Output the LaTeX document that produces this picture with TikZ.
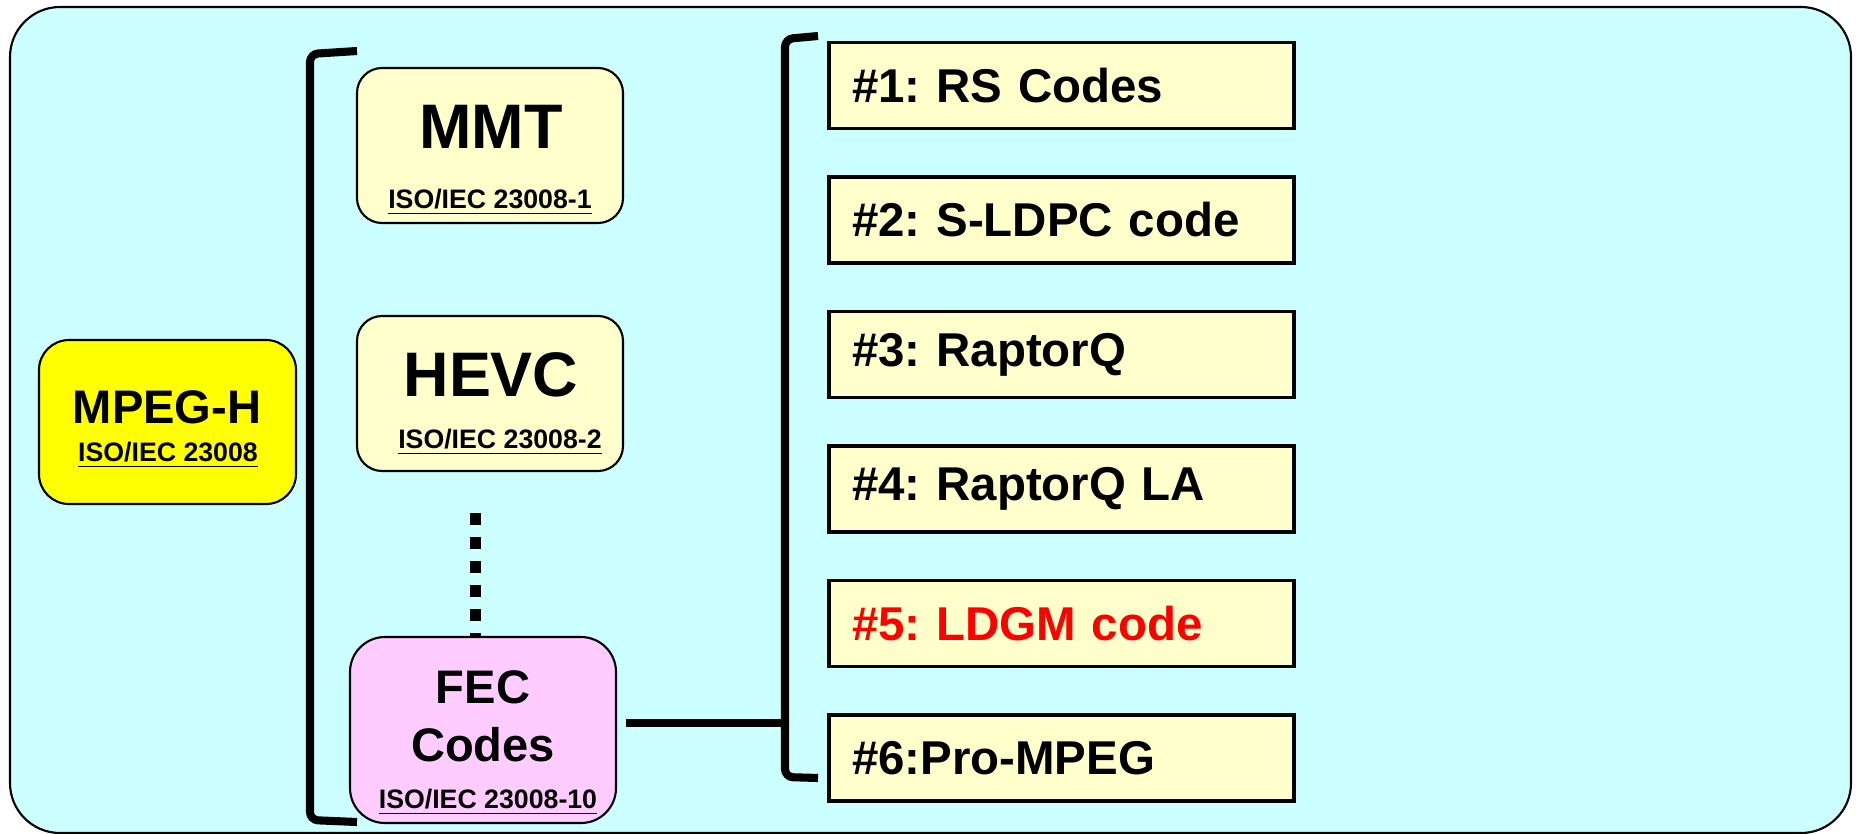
\documentclass[tikz,border=0pt]{standalone}
\usepackage{fontspec}
\setmainfont{Liberation Sans}
\usetikzlibrary{positioning}
\frenchspacing

\definecolor{panelcyan}{HTML}{CCFFFF}
\definecolor{partyellow}{HTML}{FFFFCC}
\definecolor{mpegyellow}{HTML}{FFFF00}
\definecolor{fecpink}{HTML}{FFCCFF}

\newcommand{\isolabel}[1]{\fontsize{7.6}{9}\selectfont\bfseries\underline{#1}}

\begin{document}
\begin{tikzpicture}[
    node distance=0.45cm,
    part/.style={draw, line width=0.6pt, rounded corners=0.25cm,
                 minimum width=2.66cm, minimum height=1.55cm},
    codebox/.style={draw, line width=1pt, fill=partyellow,
                    text width=4.19cm, inner xsep=0.23cm, align=left,
                    minimum height=0.86cm,
                    font=\fontsize{13.5}{16}\selectfont\bfseries},
    bracket/.style={line width=2.3pt, rounded corners=0.08cm},
    big/.style={font=\fontsize{17.9}{20}\selectfont\bfseries, inner sep=0pt},
    mid/.style={font=\fontsize{13.4}{16.5}\selectfont\bfseries, inner sep=0pt},
    iso/.style={inner sep=0pt}
  ]
    \useasboundingbox (0,0) rectangle (18.56,8.33);

    % Panel
    \draw [fill=panelcyan, line width=0.6pt, rounded corners=0.5cm]
          (0.10,0.0) rectangle (18.51,8.26);

    % MPEG-H
    \node [part, fill=mpegyellow, minimum width=2.57cm, minimum height=1.64cm,
           rounded corners=0.3cm] (mpegh) at (1.675,4.11) {};
    \node [mid, anchor=base] (mpeghname) at (1.67,4.10) {MPEG-H};
    \node [iso, anchor=base] (mpeghiso) at (1.68,3.72) {\isolabel{ISO/IEC 23008}};

    % Parts
    \node [part, fill=partyellow] (mmt) at (4.90,6.875) {};
    \node [big, anchor=base] (mmtname) at (4.91,6.85) {MMT};
    \node [iso, anchor=base] (mmtiso) at (4.90,6.25) {\isolabel{ISO/IEC 23008-1}};

    \node [part, fill=partyellow] (hevc) at (4.90,4.395) {};
    \node [big, anchor=base] (hevcname) at (4.91,4.37) {HEVC};
    \node [iso, anchor=base] (hevciso) at (5.00,3.85) {\isolabel{ISO/IEC 23008-2}};

    \node [part, fill=fecpink, minimum height=1.86cm, rounded corners=0.35cm]
          (fec) at (4.83,1.03) {};
    \node [mid, anchor=base, align=center] (fecname) at (4.83,0.72) {FEC\\Codes};
    \node [iso, anchor=base] (feciso) at (4.88,0.25) {\isolabel{ISO/IEC 23008-10}};

    % Dots
    \draw [line width=0.11cm, dash pattern=on 0.12cm off 0.12cm]
          ([xshift=-0.15cm, yshift=-0.41cm]hevc.south) -- ([xshift=-0.08cm]fec.north);

    % Brackets
    \draw [bracket] (3.57,7.82) -- (3.10,7.79) -- (3.10,0.13) -- (3.57,0.11);
    \draw [bracket] (8.18,7.97) -- (7.85,7.94) -- (7.85,0.56) -- (8.18,0.55);

    % Edge
    \coordinate (fecjoin) at (7.85,1.10);
    \draw [line width=2.3pt] ([xshift=0.09cm, yshift=0.07cm]fec.east) -- (fecjoin);

    % Codes
    \node [codebox] (rs) at (10.615,7.475) {\#1: RS Codes};
    \node [codebox, below=of rs] (sldpc) {\#2: S-LDPC code};
    \node [codebox, below=of sldpc] (raptorq) {\#3: RaptorQ};
    \node [codebox, below=of raptorq] (raptorqla) {\#4: RaptorQ LA};
    \node [codebox, below=of raptorqla, text=red] (ldgm) {\#5: LDGM code};
    \node [codebox, below=of ldgm] (prompeg) {\#6:Pro-MPEG};
  \end{tikzpicture}
\end{document}
